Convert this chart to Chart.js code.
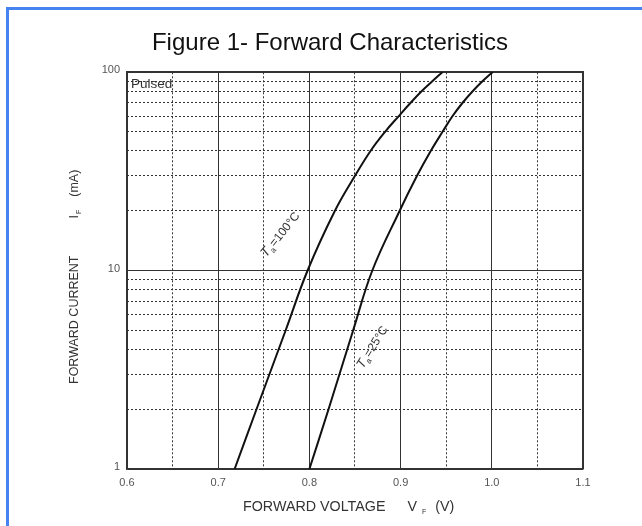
<!doctype html>
<html lang="en">
  <head>
    <meta charset="utf-8">
    <title>Figure 1- Forward Characteristics</title>
    <script src="https://cdn.jsdelivr.net/npm/chart.js"></script>
    <style>
      body { margin: 0; background: #fff; overflow: hidden; }
      #frame {
        position: absolute; left: 6px; top: 7px; width: 700px; height: 600px;
        border-left: 3px solid rgb(70, 130, 240); border-top: 3px solid rgb(70, 130, 240);
      }
      #fwdChart { position: absolute; left: 0; top: 0; }
    </style>
  </head>
  <body>
    <div id="frame"></div>
    <canvas id="fwdChart" width="642" height="526"></canvas>
    <script>
      // forward current (mA) and the voltage (V)
      const currentMA = [1, 2, 5, 10, 20, 30, 40, 50, 60, 70, 80, 90, 100];
      const voltage100C = [0.718, 0.742, 0.774, 0.798, 0.828, 0.850, 0.867, 0.883, 0.898, 0.911, 0.923, 0.935, 0.946];
      const voltage25C = [0.800, 0.821, 0.848, 0.869, 0.899, 0.918, 0.933, 0.946, 0.957, 0.968, 0.979, 0.990, 1.001];

      const voltageTicks = [0.6, 0.7, 0.8, 0.9, 1.0, 1.1];
      const voltageMinor = [0.65, 0.75, 0.85, 0.95, 1.05];
      const currentTicks = [1, 10, 100];
      const currentMinor = [2, 3, 4, 5, 6, 7, 8, 9, 20, 30, 40, 50, 60, 70, 80, 90];

      const fontName = "'Liberation Sans', Arial, sans-serif";

      function toPoints(xs, ys) {
        return xs.map((x, i) => ({ x: x, y: ys[i] }));
      }

      function runsWidth(ctx, runs) {
        let w = 0;
        for (const r of runs) {
          ctx.font = (r.italic ? 'italic ' : '') + r.size + 'px ' + fontName;
          w += (r.gap || 0) + ctx.measureText(r.text).width;
        }
        return w;
      }

      function drawRuns(ctx, runs, x, y) {
        let cx = x;
        for (const r of runs) {
          cx += r.gap || 0;
          ctx.font = (r.italic ? 'italic ' : '') + r.size + 'px ' + fontName;
          ctx.fillText(r.text, cx, y + (r.dy || 0));
          cx += ctx.measureText(r.text).width;
        }
      }

      const curveLabels = [
        { x: 0.768, y: 15.2, angle: -51, runs: [
          { text: 'T', size: 13, italic: true },
          { text: 'a', size: 8, dy: 3 },
          { text: '=100°C', size: 12, gap: 1 }
        ] },
        { x: 0.8688, y: 4.11, angle: -58, runs: [
          { text: 'T', size: 13, italic: true },
          { text: 'a', size: 8, dy: 3 },
          { text: '=25°C', size: 12, gap: 1 }
        ] }
      ];

      const notesPlugin = {
        id: 'notes',
        afterDraw(chart) {
          const ctx = chart.ctx;
          const area = chart.chartArea;
          const xs = chart.scales.x;
          const ys = chart.scales.y;
          ctx.save();
          ctx.fillStyle = '#333';
          ctx.textBaseline = 'alphabetic';

          ctx.font = '13.5px ' + fontName;
          ctx.fillText('Pulsed', area.left + 4, area.top + 16);

          for (const lb of curveLabels) {
            const px = xs.getPixelForValue(lb.x);
            const py = ys.getPixelForValue(lb.y);
            ctx.save();
            ctx.translate(px, py);
            ctx.rotate(lb.angle * Math.PI / 180);
            drawRuns(ctx, lb.runs, -runsWidth(ctx, lb.runs) / 2, 4);
            ctx.restore();
          }

          // x axis title
          drawRuns(ctx, [
            { text: 'FORWARD VOLTAGE', size: 14.3 },
            { text: 'V', size: 14.3, gap: 22 },
            { text: 'F', size: 7, dy: 3, gap: 5 },
            { text: '(V)', size: 14.3, gap: 9 }
          ], area.left + 116, area.bottom + 42);

          // y axis title
          ctx.save();
          ctx.translate(area.left - 49, area.bottom - 85);
          ctx.rotate(-Math.PI / 2);
          drawRuns(ctx, [
            { text: 'FORWARD CURRENT', size: 12.5 },
            { text: 'I', size: 12.5, gap: 37 },
            { text: 'F', size: 7, dy: 3, gap: 1 },
            { text: '(mA)', size: 12.5, gap: 13 }
          ], 0, 0);
          ctx.restore();

          ctx.restore();
        }
      };

      const ctx = document.getElementById('fwdChart').getContext('2d');
      new Chart(ctx, {
        type: 'scatter',
        data: {
          datasets: [
            {
              label: 'Ta=100°C',
              data: toPoints(voltage100C, currentMA),
              showLine: true,
              borderColor: '#111',
              borderWidth: 2,
              pointRadius: 0,
              tension: 0.4
            },
            {
              label: 'Ta=25°C',
              data: toPoints(voltage25C, currentMA),
              showLine: true,
              borderColor: '#111',
              borderWidth: 2,
              pointRadius: 0,
              tension: 0.4
            }
          ]
        },
        options: {
          responsive: false,
          animation: false,
          devicePixelRatio: 1,
          layout: { padding: { left: 18, top: 0, right: 0, bottom: 0 } },
          plugins: {
            legend: { display: false },
            tooltip: { enabled: false },
            title: {
              display: true,
              text: 'Figure 1- Forward Characteristics',
              color: '#111',
              font: { family: fontName, size: 24, weight: 'normal' },
              padding: { top: 29, bottom: 0 }
            }
          },
          scales: {
            x: {
              type: 'linear',
              position: 'bottom',
              min: 0.6,
              max: 1.1,
              afterBuildTicks: s => { s.ticks = voltageTicks.map(v => ({ value: v })); },
              afterFit: s => { s.height = 57; },
              ticks: {
                color: '#555',
                padding: 7,
                font: { family: fontName, size: 11 },
                callback: v => Number(v).toFixed(1)
              },
              grid: { color: '#333', lineWidth: 1, drawTicks: false },
              border: { color: '#333', width: 1.3 }
            },
            x2: {
              type: 'linear',
              position: 'top',
              min: 0.6,
              max: 1.1,
              afterBuildTicks: s => { s.ticks = voltageMinor.map(v => ({ value: v })); },
              afterFit: s => { s.height = 14.2; },
              ticks: { display: false },
              grid: { color: '#333', lineWidth: 1, drawTicks: false },
              border: { color: '#333', width: 1.3, dash: [2, 2] }
            },
            y: {
              type: 'logarithmic',
              position: 'left',
              min: 1,
              max: 100,
              afterBuildTicks: s => { s.ticks = currentTicks.map(v => ({ value: v })); },
              afterFit: s => { s.width = 109; },
              ticks: {
                color: '#555',
                padding: 7,
                labelOffset: -2,
                font: { family: fontName, size: 11 },
                callback: v => String(v)
              },
              grid: { color: '#333', lineWidth: 1, drawTicks: false },
              border: { color: '#333', width: 1.3 }
            },
            y2: {
              type: 'logarithmic',
              position: 'right',
              min: 1,
              max: 100,
              afterBuildTicks: s => { s.ticks = currentMinor.map(v => ({ value: v })); },
              afterFit: s => { s.width = 59; },
              ticks: { display: false },
              grid: { color: '#333', lineWidth: 1, drawTicks: false },
              border: { color: '#333', width: 1.3, dash: [2, 2] }
            }
          }
        },
        plugins: [notesPlugin]
      });
    </script>
  </body>
</html>
